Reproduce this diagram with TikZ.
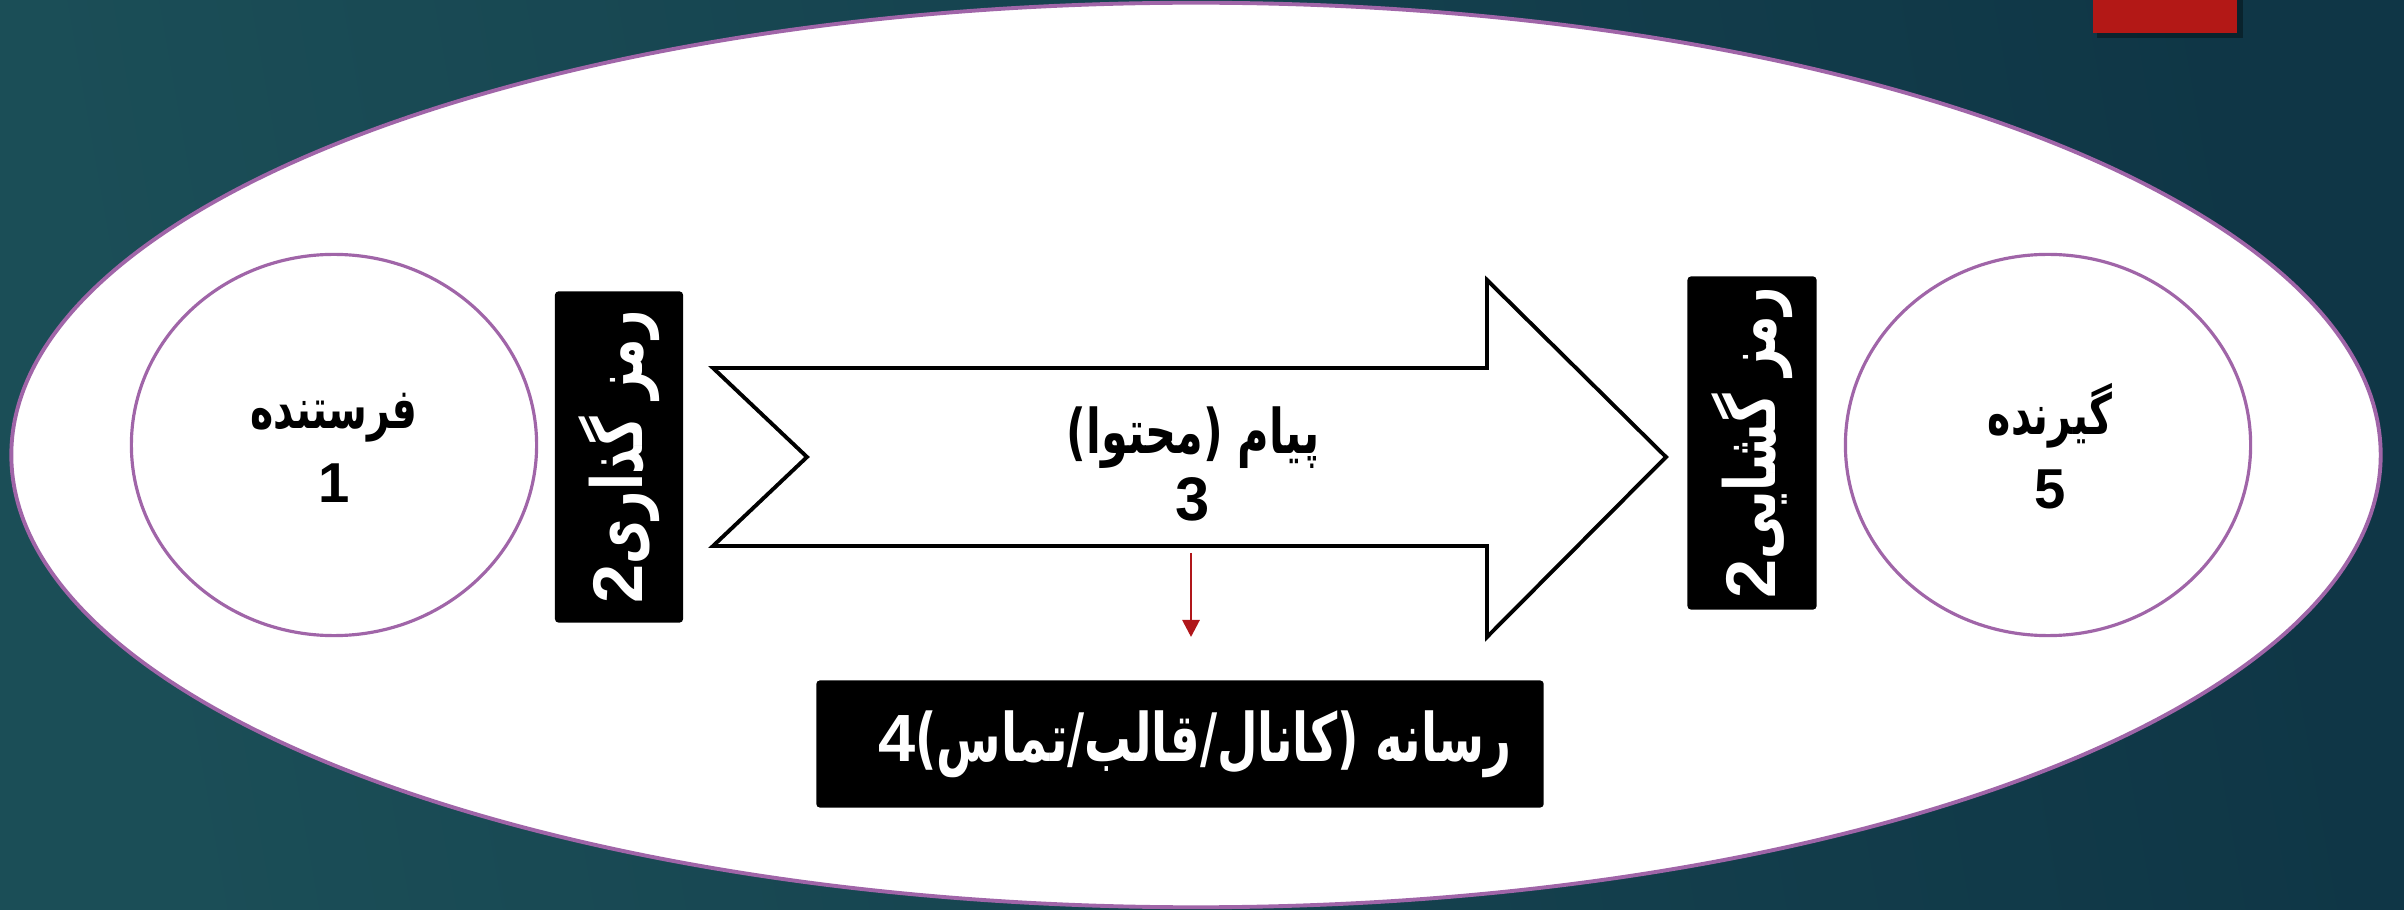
\documentclass[tikz,border=0pt]{standalone}
\usepackage{fontspec}
\setmainfont{Liberation Sans}
\newfontfamily\farsifont[Script=Arabic,FakeStretch=0.7]{DejaVu Sans}
\TeXXeTstate=1
\usetikzlibrary{arrows.meta,shapes.geometric}
\definecolor{bgleft}{HTML}{1B4E57}
\definecolor{bgmid}{HTML}{2B635F}
\definecolor{bgright}{HTML}{0F3646}
\definecolor{ringpurple}{HTML}{A065A8}
\definecolor{tabred}{HTML}{B31816}
\definecolor{flowred}{HTML}{B0161A}

\tikzset{
  party/.style={ellipse, draw=ringpurple, line width=0.9pt, fill=white,
    minimum width=4.05cm, minimum height=3.81cm, inner sep=0pt},
  partytext/.style={align=center, inner sep=0pt, font=\bfseries\fontsize{16}{21}\selectfont},
  codebox/.style={fill=black, rounded corners=1pt, text=white, inner sep=0pt,
    font=\bfseries\fontsize{20}{24}\selectfont},
}

\begin{document}
\begin{tikzpicture}[x=0.01cm,y=-0.01cm]
\useasboundingbox (0,0) rectangle (2404,910);
\shade[left color=bgleft, middle color=bgmid, right color=bgright, shading angle=100] (0,0) rectangle (2404,910); %slide background
\fill[black,opacity=0.35] (2097,0) rectangle (2243,38); %tab shadow
\fill[tabred] (2093,0) rectangle (2237,33); %red tab

\draw[ringpurple, line width=1.1pt, fill=white] (1196,455) ellipse [x radius=11.84cm, y radius=4.52cm]; %outer frame

% sender and receiver
\node[party] (sender) at (334,445) {};
\node[partytext] (sendertext) at (334,448) {\farsifont\beginR فرستنده\endR\\1};
\node[party] (receiver) at (2048,445) {};
\node[partytext] (receivertext) at (2050,446) {\farsifont\beginR گیرنده\endR\\5};

% encoding and decoding
\node[codebox, rotate=90, minimum width=3.31cm, minimum height=1.28cm] (encode) at (619,457) {\farsifont\beginR رمز گذاری{\rmfamily 2}\endR};
\node[codebox, rotate=90, minimum width=3.33cm, minimum height=1.29cm] (decode) at (1752,443) {\farsifont\beginR رمز گشایی{\rmfamily 2}\endR};

% message arrow
\draw[line width=1.1pt, fill=white, line join=miter] (713,368) -- (1487,368) -- (1487,280) -- (1666,457) -- (1487,637) -- (1487,546) -- (713,546) -- (807,457) -- cycle;
\node[partytext, font=\bfseries\fontsize{17.5}{19}\selectfont] (message) at (1193,464) {\farsifont\beginR پیام (محتوا)\endR\\3};

% channel
\node[codebox, minimum width=7.27cm, minimum height=1.27cm, font=\bfseries\fontsize{19}{22}\selectfont] (channel) at (1180,744) {\hspace{0.3cm}\farsifont\beginR رسانه (کانال/قالب/تماس){\rmfamily 4}\endR};
\coordinate (flowtop) at (1191,553);
\coordinate (flowend) at (1191,637);
\draw[flowred, line width=0.8pt, -{Triangle[length=0.17cm,width=0.17cm]}] (flowtop) -- (flowend);
\end{tikzpicture}
\end{document}
